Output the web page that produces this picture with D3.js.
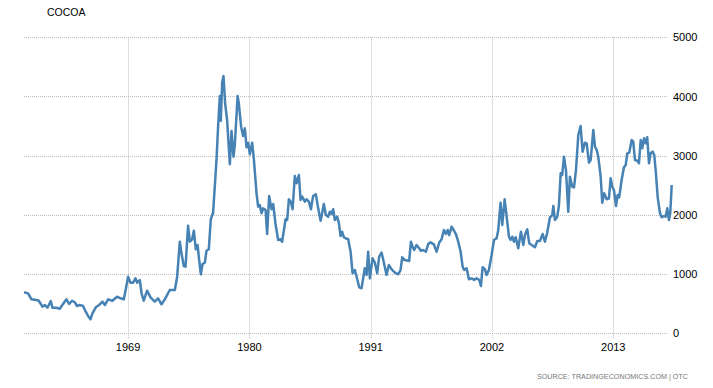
<!DOCTYPE html>
<html>
<head>
<meta charset="utf-8">
<script src="https://cdn.jsdelivr.net/npm/d3@7"></script>
<style>
  body { margin: 0; background: #fff; }
  svg { display: block; font-family: 'Liberation Sans', Arial, sans-serif; }
</style>
</head>
<body>
<div id="chart"></div>
<script>
// cocoa price, decimal year -> usd/t
const years = [
  1959.56, 1959.93, 1960.24, 1960.69, 1960.90, 1961.23, 1961.44, 1961.69, 1961.99, 1962.14,
  1962.50, 1962.80, 1963.10, 1963.41, 1963.65, 1963.92, 1964.16, 1964.37, 1964.62, 1964.92,
  1965.16, 1965.37, 1965.59, 1965.77, 1966.07, 1966.37, 1966.68, 1966.89, 1967.19, 1967.58,
  1968.00, 1968.31, 1968.61, 1968.79, 1969.00, 1969.22, 1969.45, 1969.67, 1969.82, 1970.06,
  1970.22, 1970.42, 1970.72, 1971.03, 1971.42, 1971.72, 1972.03, 1972.33, 1972.78, 1973.24,
  1973.45, 1973.69, 1973.84, 1974.05, 1974.21, 1974.44, 1974.60, 1974.81, 1974.96, 1975.14,
  1975.30, 1975.44, 1975.60, 1975.75, 1975.96, 1976.11, 1976.32, 1976.50, 1976.71, 1977.02,
  1977.17, 1977.32, 1977.41, 1977.53, 1977.65, 1977.80, 1977.98, 1978.23, 1978.38, 1978.56,
  1978.68, 1978.93, 1979.04, 1979.25, 1979.43, 1979.59, 1979.74, 1979.89, 1980.04, 1980.25,
  1980.40, 1980.65, 1980.79, 1980.95, 1981.10, 1981.25, 1981.47, 1981.61, 1981.79, 1982.01,
  1982.16, 1982.37, 1982.61, 1982.83, 1982.97, 1983.28, 1983.43, 1983.58, 1983.76, 1983.92,
  1984.12, 1984.28, 1984.49, 1984.64, 1984.79, 1985.03, 1985.19, 1985.39, 1985.58, 1985.78,
  1986.03, 1986.24, 1986.46, 1986.60, 1986.75, 1986.94, 1987.14, 1987.30, 1987.45, 1987.60,
  1987.75, 1987.96, 1988.12, 1988.27, 1988.41, 1988.57, 1988.72, 1988.96, 1989.18, 1989.36,
  1989.57, 1989.78, 1989.96, 1990.17, 1990.32, 1990.47, 1990.63, 1990.77, 1990.93, 1991.17,
  1991.38, 1991.59, 1991.77, 1991.99, 1992.20, 1992.44, 1992.65, 1992.90, 1993.20, 1993.49,
  1993.71, 1993.86, 1994.10, 1994.49, 1994.65, 1994.80, 1994.95, 1995.16, 1995.40, 1995.55,
  1995.76, 1996.01, 1996.22, 1996.43, 1996.73, 1996.98, 1997.21, 1997.43, 1997.64, 1997.82,
  1997.98, 1998.12, 1998.34, 1998.55, 1998.73, 1998.94, 1999.16, 1999.34, 1999.48, 1999.70,
  1999.91, 2000.15, 2000.39, 2000.61, 2000.84, 2001.00, 2001.15, 2001.36, 2001.51, 2001.72,
  2001.97, 2002.18, 2002.42, 2002.57, 2002.78, 2002.93, 2003.15, 2003.33, 2003.54, 2003.69,
  2003.84, 2003.99, 2004.15, 2004.38, 2004.63, 2004.84, 2004.99, 2005.20, 2005.38, 2005.60,
  2005.90, 2006.11, 2006.35, 2006.60, 2006.80, 2007.01, 2007.26, 2007.47, 2007.56, 2007.71,
  2007.92, 2008.07, 2008.23, 2008.37, 2008.53, 2008.71, 2008.92, 2009.07, 2009.28, 2009.44,
  2009.62, 2009.83, 2010.04, 2010.22, 2010.43, 2010.59, 2010.80, 2010.95, 2011.19, 2011.34,
  2011.50, 2011.64, 2011.86, 2012.00, 2012.18, 2012.40, 2012.61, 2012.76, 2012.91, 2013.06,
  2013.25, 2013.40, 2013.54, 2013.76, 2013.97, 2014.13, 2014.27, 2014.45, 2014.67, 2014.81,
  2014.97, 2015.18, 2015.33, 2015.49, 2015.63, 2015.79, 2015.94, 2016.08, 2016.24, 2016.39,
  2016.57, 2016.72, 2016.87, 2017.03, 2017.24, 2017.39, 2017.60, 2017.75, 2017.90, 2018.05,
  2018.17, 2018.30
]
const prices = [
  692, 675, 574, 562, 550, 450, 478, 432, 545, 432,
  432, 415, 495, 574, 495, 550, 524, 461, 478, 461,
  365, 292, 236, 338, 439, 478, 534, 478, 574, 550,
  618, 591, 574, 743, 956, 855, 855, 929, 855, 900,
  676, 551, 720, 608, 534, 591, 490, 574, 731, 731,
  956, 1547, 1351, 1137, 1125, 1818, 1547, 1588, 1733, 1419,
  1492, 1250, 997, 1171, 1193, 1395, 1419, 1926, 2037, 2939,
  3519, 4008, 3591, 4233, 4346, 3885, 3603, 2855, 3417, 2983,
  3181, 4008, 3885, 3490, 3333, 3463, 3142, 3220, 3024, 3220,
  2956, 2365, 2139, 2167, 2027, 2111, 2083, 1677, 2319, 2095,
  2184, 1846, 1576, 1588, 1547, 1926, 1914, 2264, 2223, 2095,
  2657, 2534, 2674, 2252, 2308, 2223, 2264, 2223, 2095, 2319,
  2348, 2111, 1902, 2027, 2184, 1998, 1970, 2054, 2015, 2095,
  1914, 1970, 1858, 1644, 1716, 1622, 1605, 1588, 1378, 1014,
  1069, 912, 777, 760, 929, 1098, 985, 1378, 929, 1267,
  1193, 1014, 1294, 1362, 1193, 985, 1154, 1081, 1024, 997,
  1069, 1284, 1238, 1221, 1547, 1463, 1407, 1492, 1436, 1395,
  1407, 1378, 1508, 1537, 1503, 1378, 1530, 1588, 1745, 1677,
  1745, 1660, 1801, 1733, 1677, 1547, 1378, 1125, 1069, 1098,
  912, 929, 900, 929, 900, 799, 1115, 1081, 985, 1069,
  1323, 1576, 1605, 1745, 2206, 1829, 2264, 1970, 1632, 1576,
  1632, 1547, 1622, 1436, 1716, 1492, 1660, 1757, 1520, 1492,
  1453, 1559, 1559, 1677, 1547, 1699, 1959, 1998, 2150, 1914,
  1970, 2150, 2703, 2674, 2983, 2759, 2054, 2645, 2476, 2466,
  2759, 3350, 3502, 3068, 3220, 3209, 2882, 2927, 3434, 3152,
  3096, 2983, 2645, 2206, 2365, 2264, 2280, 2618, 2476, 2421,
  2150, 2336, 2297, 2590, 2804, 2843, 3040, 3051, 3265, 3237,
  2927, 2916, 2872, 3265, 3125, 3294, 3209, 3311, 2872, 3040,
  3068, 3012, 2703, 2297, 2027, 1959, 1981, 1970, 2111, 1914,
  2027, 2505
]
const yearTicks = [1969, 1980, 1991, 2002, 2013]
const priceTicks = [0, 1000, 2000, 3000, 4000, 5000]
const title = 'COCOA'
const source = 'SOURCE: TRADINGECONOMICS.COM | OTC'

const width = 713
const height = 388
const plot = { left: 24, right: 671.7, top: 37.3, bottom: 333.3, gridRight: 668 }

const data = years.map((y, i) => ({ year: y, value: prices[i] }))

const x = d3.scaleLinear()
  .domain([years[0], years[years.length - 1]])
  .range([plot.left, plot.right])
const y = d3.scaleLinear()
  .domain([0, 5000])
  .range([plot.bottom, plot.top])

const svg = d3.select('#chart').append('svg')
  .attr('width', width)
  .attr('height', height)

// horizontal grid
svg.append('g')
  .selectAll('line')
  .data(priceTicks)
  .join('line')
  .attr('x1', plot.left)
  .attr('x2', plot.gridRight)
  .attr('y1', d => Math.round(y(d)) + 0.5)
  .attr('y2', d => Math.round(y(d)) + 0.5)
  .attr('stroke', '#bdbdbd')
  .attr('stroke-dasharray', '1,1')

// vertical grid, a little tick below zero
svg.append('g')
  .selectAll('line')
  .data(yearTicks)
  .join('line')
  .attr('x1', d => Math.round(x(d)) + 0.5)
  .attr('x2', d => Math.round(x(d)) + 0.5)
  .attr('y1', plot.top)
  .attr('y2', plot.bottom + 6)
  .attr('stroke', '#bdbdbd')
  .attr('stroke-dasharray', '1,1')

// y labels on the right
svg.append('g')
  .selectAll('text')
  .data(priceTicks)
  .join('text')
  .attr('x', 673)
  .attr('y', d => y(d) + 4)
  .attr('font-size', 11)
  .attr('fill', '#000')
  .text(d => d)

// x labels
svg.append('g')
  .selectAll('text')
  .data(yearTicks)
  .join('text')
  .attr('x', d => x(d))
  .attr('y', 351)
  .attr('text-anchor', 'middle')
  .attr('font-size', 11)
  .attr('fill', '#000')
  .text(d => d)

const line = d3.line()
  .x(d => x(d.year))
  .y(d => y(d.value))

svg.append('path')
  .datum(data)
  .attr('fill', 'none')
  .attr('stroke', '#4682b4')
  .attr('stroke-width', 2.5)
  .attr('stroke-linejoin', 'round')
  .attr('d', line)

svg.append('text')
  .attr('x', 47)
  .attr('y', 16)
  .attr('font-size', 10.5)
  .attr('fill', '#000')
  .text(title)

svg.append('text')
  .attr('x', 688)
  .attr('y', 379)
  .attr('text-anchor', 'end')
  .attr('font-size', 7.2)
  .attr('fill', '#777')
  .text(source)
</script>
</body>
</html>
